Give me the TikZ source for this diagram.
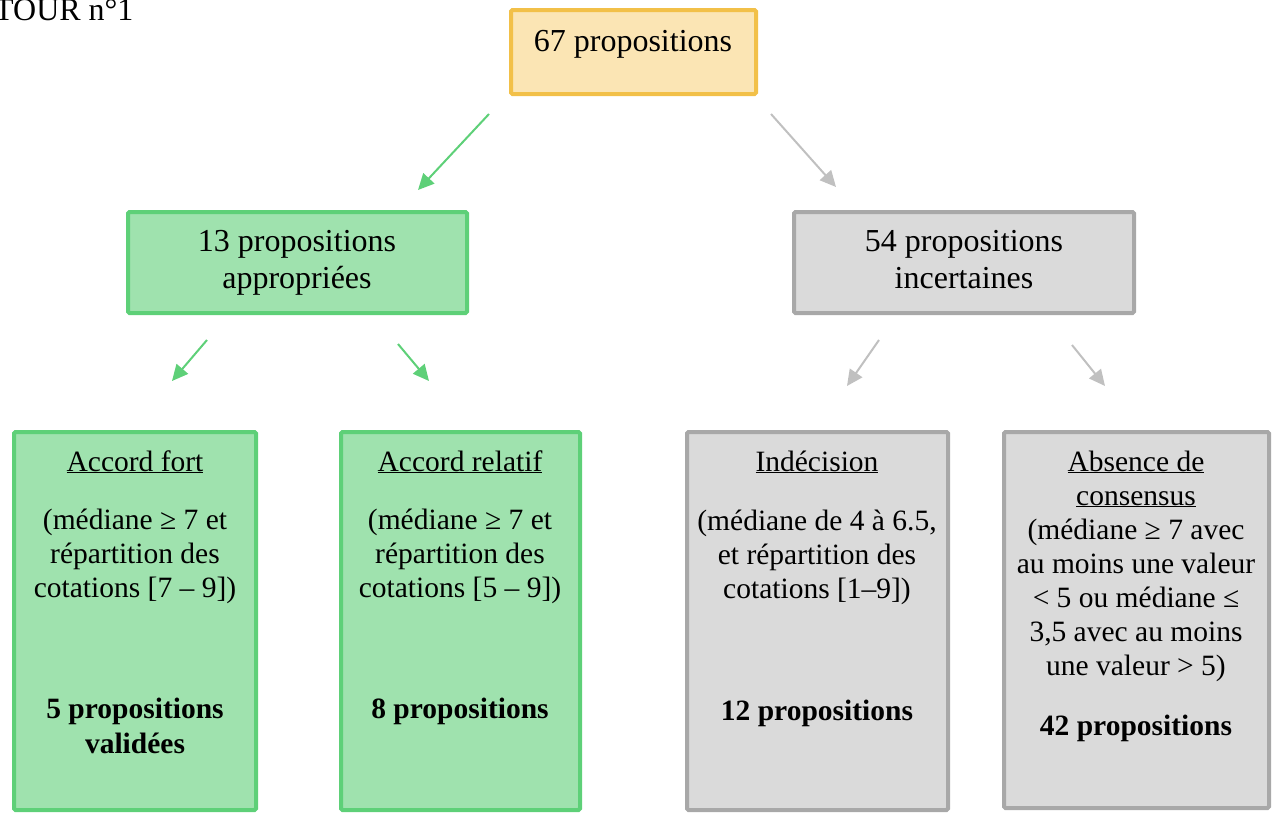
\documentclass[tikz,border=0pt]{standalone}
\usepackage{fontspec}
\setmainfont{Liberation Serif}
\usetikzlibrary{arrows.meta}

\definecolor{orangefill}{RGB}{251,229,180}
\definecolor{orangeline}{RGB}{242,192,72}
\definecolor{greenfill}{RGB}{159,226,174}
\definecolor{greenline}{RGB}{94,208,120}
\definecolor{grayfill}{RGB}{218,218,218}
\definecolor{grayline}{RGB}{168,168,168}
\definecolor{grayarrow}{RGB}{192,192,192}

\tikzset{
  box/.style={draw, line width=4pt, rounded corners=1.5pt, inner sep=0pt},
  obox/.style={box, draw=orangeline, fill=orangefill},
  gbox/.style={box, draw=greenline, fill=greenfill},
  ybox/.style={box, draw=grayline, fill=grayfill},
  % anchor=base sits on the baseline of the last line
  txt/.style={inner sep=0pt, anchor=base, align=center,
    font=\fontsize{29.5}{33.8}\selectfont},
  bigtxt/.style={txt, font=\fontsize{32}{37}\selectfont},
  boldtxt/.style={txt, font=\fontsize{29.5}{35}\selectfont\bfseries},
  garrow/.style={draw=greenline, line width=2pt,
    -{Triangle[length=16pt,width=15pt,fill=greenline]}},
  yarrow/.style={draw=grayarrow, line width=2pt,
    -{Triangle[length=16pt,width=15pt,fill=grayarrow]}},
}

\begin{document}
\begin{tikzpicture}[x=1pt, y=-1pt]
\useasboundingbox (0,0) rectangle (1277,814);

% title
\node[bigtxt, anchor=base west] (title) at (-6,20) {TOUR n°1};

% boxes
\node[obox, minimum width=245pt, minimum height=84pt] (top) at (633.5,52) {};
\node[gbox, minimum width=339pt, minimum height=101pt] (appr) at (297.5,262.5) {};
\node[ybox, minimum width=340pt, minimum height=101pt] (inc) at (964,262.5) {};
\node[gbox, minimum width=242pt, minimum height=378pt] (fort) at (135,621) {};
\node[gbox, minimum width=239pt, minimum height=378pt] (rel) at (460.5,621) {};
\node[ybox, minimum width=261pt, minimum height=378pt] (ind) at (817.5,621) {};
\node[ybox, minimum width=265pt, minimum height=376pt] (abs) at (1136.5,620) {};

% texts
\node[bigtxt] (topT) at (633,51) {67 propositions};
\node[bigtxt] (apprT) at (297,288) {13 propositions\\appropriées};
\node[bigtxt] (incT) at (964,288) {54 propositions\\incertaines};

\node[txt] (fortH) at (135,471) {\underline{Accord fort}};
\node[txt] (fortT) at (135,597.5) {(médiane ≥ 7 et\\répartition des\\cotations [7 – 9])};
\node[boldtxt] (fortB) at (135,753) {5 propositions\\validées};

\node[txt] (relH) at (460,471) {\underline{Accord relatif}};
\node[txt] (relT) at (460,597.5) {(médiane ≥ 7 et\\répartition des\\cotations [5 – 9])};
\node[boldtxt] (relB) at (460,718) {8 propositions};

\node[txt] (indH) at (817,471) {\underline{Indécision}};
\node[txt] (indT) at (817,598.5) {(médiane de 4 à 6.5,\\et répartition des\\cotations [1–9])};
\node[boldtxt] (indB) at (817,720) {12 propositions};

\node[txt, font=\fontsize{29.5}{34}\selectfont] (absH) at (1136,675)
  {\underline{Absence de}\\\underline{consensus}\\(médiane ≥ 7 avec\\au moins une valeur\\< 5 ou médiane ≤\\3,5 avec au moins\\une valeur > 5)};
\node[boldtxt] (absB) at (1136,735) {42 propositions};

% connectors
\coordinate (a1s) at (489,114); \coordinate (a1e) at (418,190);
\coordinate (a2s) at (771,114); \coordinate (a2e) at (836,187);
\coordinate (a3s) at (207,340); \coordinate (a3e) at (172,381);
\coordinate (a4s) at (398,344); \coordinate (a4e) at (429,381);
\coordinate (a5s) at (879,340); \coordinate (a5e) at (847,386);
\coordinate (a6s) at (1072,345); \coordinate (a6e) at (1105,386);

\draw[garrow] (a1s) -- (a1e);
\draw[yarrow] (a2s) -- (a2e);
\draw[garrow] (a3s) -- (a3e);
\draw[garrow] (a4s) -- (a4e);
\draw[yarrow] (a5s) -- (a5e);
\draw[yarrow] (a6s) -- (a6e);
\end{tikzpicture}
\end{document}
